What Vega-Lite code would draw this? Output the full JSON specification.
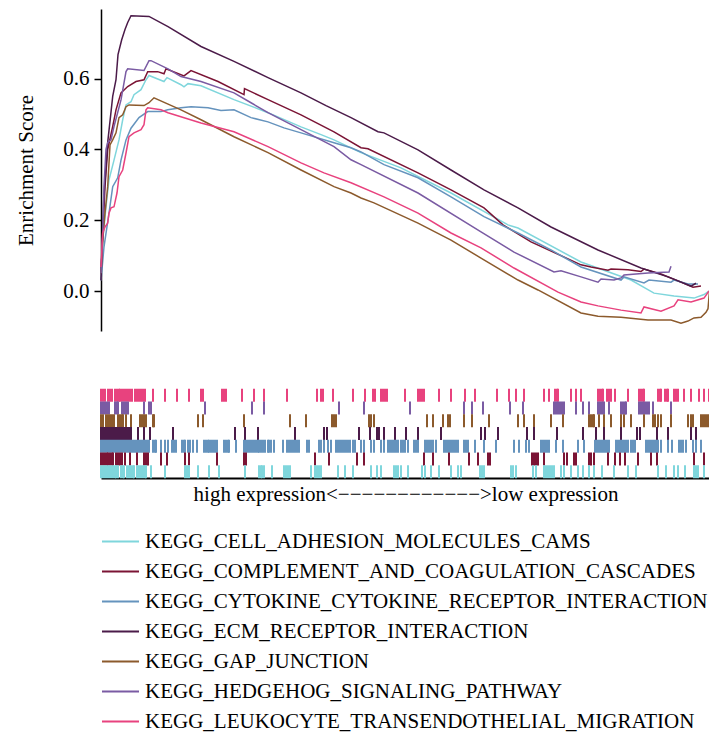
{
  "$schema": "https://vega.github.io/schema/vega-lite/v6.json",
  "padding": {"left": 15, "top": 9, "right": 0, "bottom": 0},
  "background": "white",
  "spacing": 57,
  "config": {
    "font": "Liberation Serif",
    "view": {"stroke": null},
    "axis": {"labelFont": "Liberation Serif", "titleFont": "Liberation Serif", "labelColor": "black", "titleColor": "black", "domainColor": "black", "tickColor": "black", "grid": false},
    "legend": {"labelFont": "Liberation Serif", "labelColor": "black"}
  },
  "datasets": {
    "names": [
      {"code": "A", "set": "KEGG_CELL_ADHESION_MOLECULES_CAMS"},
      {"code": "M", "set": "KEGG_COMPLEMENT_AND_COAGULATION_CASCADES"},
      {"code": "C", "set": "KEGG_CYTOKINE_CYTOKINE_RECEPTOR_INTERACTION"},
      {"code": "E", "set": "KEGG_ECM_RECEPTOR_INTERACTION"},
      {"code": "G", "set": "KEGG_GAP_JUNCTION"},
      {"code": "H", "set": "KEGG_HEDGEHOG_SIGNALING_PATHWAY"},
      {"code": "L", "set": "KEGG_LEUKOCYTE_TRANSENDOTHELIAL_MIGRATION"}
    ],
    "curves": [
      {"code":"A","rank":0,"es":0.05},{"code":"A","rank":2,"es":0.15},{"code":"A","rank":5,"es":0.238},{"code":"A","rank":8,"es":0.314},{"code":"A","rank":13,"es":0.37},{"code":"A","rank":18,"es":0.427},{"code":"A","rank":21.7,"es":0.484},{"code":"A","rank":25,"es":0.526},{"code":"A","rank":30,"es":0.535},{"code":"A","rank":33,"es":0.555},{"code":"A","rank":40,"es":0.569},{"code":"A","rank":45,"es":0.597},{"code":"A","rank":48,"es":0.609},{"code":"A","rank":63,"es":0.592},{"code":"A","rank":66,"es":0.603},{"code":"A","rank":80,"es":0.583},{"code":"A","rank":83,"es":0.577},{"code":"A","rank":87,"es":0.586},{"code":"A","rank":100,"es":0.58},{"code":"A","rank":133,"es":0.541},{"code":"A","rank":167,"es":0.504},{"code":"A","rank":200,"es":0.464},{"code":"A","rank":220,"es":0.442},{"code":"A","rank":233,"es":0.427},{"code":"A","rank":260,"es":0.391},{"code":"A","rank":300,"es":0.348},{"code":"A","rank":350,"es":0.277},{"code":"A","rank":407,"es":0.187},{"code":"A","rank":417,"es":0.178},{"code":"A","rank":480,"es":0.082},{"code":"A","rank":530,"es":0.031},{"code":"A","rank":553,"es":-0.006},{"code":"A","rank":573,"es":-0.014},{"code":"A","rank":593,"es":-0.02},{"code":"A","rank":603,"es":-0.01},{"code":"A","rank":608,"es":0.0},
      {"code":"M","rank":0,"es":0.05},{"code":"M","rank":2,"es":0.17},{"code":"M","rank":4,"es":0.295},{"code":"M","rank":6.7,"es":0.4},{"code":"M","rank":11.7,"es":0.465},{"code":"M","rank":15,"es":0.512},{"code":"M","rank":20,"es":0.56},{"code":"M","rank":26.7,"es":0.578},{"code":"M","rank":35,"es":0.592},{"code":"M","rank":43,"es":0.597},{"code":"M","rank":46.7,"es":0.62},{"code":"M","rank":56.7,"es":0.62},{"code":"M","rank":63,"es":0.614},{"code":"M","rank":65,"es":0.628},{"code":"M","rank":83,"es":0.608},{"code":"M","rank":90,"es":0.623},{"code":"M","rank":117,"es":0.592},{"code":"M","rank":143,"es":0.555},{"code":"M","rank":143.5,"es":0.572},{"code":"M","rank":167,"es":0.541},{"code":"M","rank":200,"es":0.498},{"code":"M","rank":233,"es":0.45},{"code":"M","rank":260,"es":0.405},{"code":"M","rank":267,"es":0.402},{"code":"M","rank":317,"es":0.334},{"code":"M","rank":350,"es":0.286},{"code":"M","rank":383,"es":0.235},{"code":"M","rank":402,"es":0.187},{"code":"M","rank":430,"es":0.139},{"code":"M","rank":480,"es":0.074},{"code":"M","rank":490,"es":0.068},{"code":"M","rank":507,"es":0.059},{"code":"M","rank":510,"es":0.062},{"code":"M","rank":527,"es":0.06},{"code":"M","rank":540,"es":0.055},{"code":"M","rank":543,"es":0.062},{"code":"M","rank":560,"es":0.048},{"code":"M","rank":580,"es":0.025},{"code":"M","rank":592,"es":0.011},{"code":"M","rank":600,"es":0.014},
      {"code":"C","rank":0,"es":0.03},{"code":"C","rank":3,"es":0.125},{"code":"C","rank":8,"es":0.22},{"code":"C","rank":11.7,"es":0.295},{"code":"C","rank":16.7,"es":0.32},{"code":"C","rank":20,"es":0.37},{"code":"C","rank":25,"es":0.427},{"code":"C","rank":30,"es":0.46},{"code":"C","rank":38,"es":0.49},{"code":"C","rank":46.7,"es":0.507},{"code":"C","rank":60,"es":0.507},{"code":"C","rank":66.7,"es":0.512},{"code":"C","rank":80,"es":0.518},{"code":"C","rank":90,"es":0.521},{"code":"C","rank":107,"es":0.518},{"code":"C","rank":120,"es":0.51},{"code":"C","rank":133,"es":0.512},{"code":"C","rank":150,"es":0.49},{"code":"C","rank":167,"es":0.478},{"code":"C","rank":183,"es":0.461},{"code":"C","rank":200,"es":0.447},{"code":"C","rank":233,"es":0.419},{"code":"C","rank":250,"es":0.405},{"code":"C","rank":260,"es":0.393},{"code":"C","rank":283,"es":0.357},{"code":"C","rank":317,"es":0.32},{"code":"C","rank":350,"es":0.266},{"code":"C","rank":383,"es":0.21},{"code":"C","rank":417,"es":0.164},{"code":"C","rank":450,"es":0.116},{"code":"C","rank":480,"es":0.068},{"code":"C","rank":520,"es":0.031},{"code":"C","rank":523,"es":0.04},{"code":"C","rank":543,"es":0.023},{"code":"C","rank":548,"es":0.031},{"code":"C","rank":570,"es":0.025},{"code":"C","rank":573,"es":0.031},{"code":"C","rank":587,"es":0.02},{"code":"C","rank":597,"es":0.02},
      {"code":"E","rank":0,"es":0.03},{"code":"E","rank":2.7,"es":0.258},{"code":"E","rank":6.7,"es":0.42},{"code":"E","rank":11.7,"es":0.55},{"code":"E","rank":15,"es":0.597},{"code":"E","rank":17,"es":0.668},{"code":"E","rank":20.7,"es":0.71},{"code":"E","rank":24,"es":0.739},{"code":"E","rank":26.7,"es":0.759},{"code":"E","rank":30,"es":0.778},{"code":"E","rank":48,"es":0.776},{"code":"E","rank":67,"es":0.747},{"code":"E","rank":100,"es":0.691},{"code":"E","rank":133,"es":0.649},{"code":"E","rank":167,"es":0.603},{"code":"E","rank":200,"es":0.56},{"code":"E","rank":225,"es":0.524},{"code":"E","rank":250,"es":0.49},{"code":"E","rank":277,"es":0.45},{"code":"E","rank":283,"es":0.447},{"code":"E","rank":317,"es":0.399},{"code":"E","rank":350,"es":0.342},{"code":"E","rank":383,"es":0.286},{"code":"E","rank":417,"es":0.235},{"code":"E","rank":450,"es":0.181},{"code":"E","rank":497,"es":0.116},{"code":"E","rank":540,"es":0.065},{"code":"E","rank":567,"es":0.04},{"code":"E","rank":590,"es":0.014},{"code":"E","rank":595,"es":0.022},
      {"code":"G","rank":0,"es":0.05},{"code":"G","rank":1.7,"es":0.144},{"code":"G","rank":4,"es":0.22},{"code":"G","rank":6.7,"es":0.295},{"code":"G","rank":9,"es":0.413},{"code":"G","rank":11.7,"es":0.427},{"code":"G","rank":15,"es":0.447},{"code":"G","rank":18,"es":0.49},{"code":"G","rank":21.7,"es":0.498},{"code":"G","rank":25,"es":0.521},{"code":"G","rank":28,"es":0.526},{"code":"G","rank":43,"es":0.524},{"code":"G","rank":48,"es":0.532},{"code":"G","rank":53,"es":0.546},{"code":"G","rank":80,"es":0.512},{"code":"G","rank":100,"es":0.484},{"code":"G","rank":133,"es":0.436},{"code":"G","rank":167,"es":0.391},{"code":"G","rank":200,"es":0.342},{"code":"G","rank":233,"es":0.295},{"code":"G","rank":250,"es":0.277},{"code":"G","rank":260,"es":0.263},{"code":"G","rank":273,"es":0.249},{"code":"G","rank":317,"es":0.192},{"code":"G","rank":350,"es":0.144},{"code":"G","rank":380,"es":0.093},{"code":"G","rank":417,"es":0.031},{"code":"G","rank":437,"es":0.003},{"code":"G","rank":480,"es":-0.062},{"code":"G","rank":497,"es":-0.071},{"code":"G","rank":520,"es":-0.074},{"code":"G","rank":547,"es":-0.082},{"code":"G","rank":570,"es":-0.082},{"code":"G","rank":580,"es":-0.091},{"code":"G","rank":587,"es":-0.085},{"code":"G","rank":593,"es":-0.076},{"code":"G","rank":600,"es":-0.074},{"code":"G","rank":605,"es":-0.06},{"code":"G","rank":607,"es":-0.05},{"code":"G","rank":608.5,"es":0.0},
      {"code":"H","rank":0,"es":0.05},{"code":"H","rank":1.7,"es":0.164},{"code":"H","rank":3,"es":0.295},{"code":"H","rank":5,"es":0.4},{"code":"H","rank":6.7,"es":0.42},{"code":"H","rank":10,"es":0.427},{"code":"H","rank":13,"es":0.465},{"code":"H","rank":20,"es":0.54},{"code":"H","rank":25,"es":0.62},{"code":"H","rank":26.7,"es":0.628},{"code":"H","rank":43,"es":0.623},{"code":"H","rank":48,"es":0.651},{"code":"H","rank":50,"es":0.651},{"code":"H","rank":67,"es":0.628},{"code":"H","rank":80,"es":0.606},{"code":"H","rank":100,"es":0.592},{"code":"H","rank":133,"es":0.56},{"code":"H","rank":150,"es":0.532},{"code":"H","rank":167,"es":0.504},{"code":"H","rank":200,"es":0.456},{"code":"H","rank":233,"es":0.408},{"code":"H","rank":250,"es":0.371},{"code":"H","rank":260,"es":0.357},{"code":"H","rank":317,"es":0.277},{"code":"H","rank":380,"es":0.167},{"code":"H","rank":413,"es":0.11},{"code":"H","rank":453,"es":0.054},{"code":"H","rank":460,"es":0.057},{"code":"H","rank":480,"es":0.04},{"code":"H","rank":497,"es":0.025},{"code":"H","rank":500,"es":0.034},{"code":"H","rank":513,"es":0.031},{"code":"H","rank":520,"es":0.037},{"code":"H","rank":523,"es":0.045},{"code":"H","rank":547,"es":0.051},{"code":"H","rank":568,"es":0.054},{"code":"H","rank":570,"es":0.07},
      {"code":"L","rank":0,"es":0.068},{"code":"L","rank":1.7,"es":0.164},{"code":"L","rank":4,"es":0.181},{"code":"L","rank":6.7,"es":0.192},{"code":"L","rank":8,"es":0.22},{"code":"L","rank":10,"es":0.235},{"code":"L","rank":13,"es":0.238},{"code":"L","rank":16,"es":0.277},{"code":"L","rank":18,"es":0.323},{"code":"L","rank":21.7,"es":0.342},{"code":"L","rank":25,"es":0.39},{"code":"L","rank":28,"es":0.436},{"code":"L","rank":33,"es":0.447},{"code":"L","rank":40,"es":0.456},{"code":"L","rank":43,"es":0.47},{"code":"L","rank":45,"es":0.512},{"code":"L","rank":46.7,"es":0.518},{"code":"L","rank":60,"es":0.512},{"code":"L","rank":67,"es":0.504},{"code":"L","rank":100,"es":0.475},{"code":"L","rank":133,"es":0.45},{"code":"L","rank":167,"es":0.408},{"code":"L","rank":200,"es":0.362},{"code":"L","rank":223,"es":0.334},{"code":"L","rank":250,"es":0.306},{"code":"L","rank":283,"es":0.266},{"code":"L","rank":317,"es":0.22},{"code":"L","rank":350,"es":0.164},{"code":"L","rank":380,"es":0.122},{"code":"L","rank":413,"es":0.065},{"code":"L","rank":457,"es":-0.003},{"code":"L","rank":480,"es":-0.031},{"code":"L","rank":497,"es":-0.042},{"code":"L","rank":520,"es":-0.054},{"code":"L","rank":540,"es":-0.062},{"code":"L","rank":543,"es":-0.045},{"code":"L","rank":560,"es":-0.057},{"code":"L","rank":573,"es":-0.042},{"code":"L","rank":577,"es":-0.025},{"code":"L","rank":590,"es":-0.031},{"code":"L","rank":603,"es":-0.02},{"code":"L","rank":608,"es":0.0}
    ],
    "hits": [
      {"code":"L","rank":0},{"code":"L","rank":2},{"code":"L","rank":4},{"code":"L","rank":7},{"code":"L","rank":9},{"code":"L","rank":11},{"code":"L","rank":14},{"code":"L","rank":16},{"code":"L","rank":18},{"code":"L","rank":19},{"code":"L","rank":21},{"code":"L","rank":23},{"code":"L","rank":25},{"code":"L","rank":27},{"code":"L","rank":29},{"code":"L","rank":31},{"code":"L","rank":34},{"code":"L","rank":36},{"code":"L","rank":38},{"code":"L","rank":40},{"code":"L","rank":42},{"code":"L","rank":44},{"code":"L","rank":52},{"code":"L","rank":64},{"code":"L","rank":76},{"code":"L","rank":88},{"code":"L","rank":100},{"code":"L","rank":102},{"code":"L","rank":121},{"code":"L","rank":123},{"code":"L","rank":125},{"code":"L","rank":141},{"code":"L","rank":153},{"code":"L","rank":163},{"code":"L","rank":186},{"code":"L","rank":216},{"code":"L","rank":220},{"code":"L","rank":222},{"code":"L","rank":232},{"code":"L","rank":252},{"code":"L","rank":264},{"code":"L","rank":272},{"code":"L","rank":274},{"code":"L","rank":280},{"code":"L","rank":282},{"code":"L","rank":284},{"code":"L","rank":286},{"code":"L","rank":304},{"code":"L","rank":317},{"code":"L","rank":319},{"code":"L","rank":321},{"code":"L","rank":323},{"code":"L","rank":338},{"code":"L","rank":350},{"code":"L","rank":364},{"code":"L","rank":374},{"code":"L","rank":396},{"code":"L","rank":408},{"code":"L","rank":415},{"code":"L","rank":423},{"code":"L","rank":443},{"code":"L","rank":448},{"code":"L","rank":454},{"code":"L","rank":456},{"code":"L","rank":457},{"code":"L","rank":470},{"code":"L","rank":475},{"code":"L","rank":480},{"code":"L","rank":497},{"code":"L","rank":499},{"code":"L","rank":501},{"code":"L","rank":502},{"code":"L","rank":506},{"code":"L","rank":508},{"code":"L","rank":510},{"code":"L","rank":514},{"code":"L","rank":527},{"code":"L","rank":538},{"code":"L","rank":540},{"code":"L","rank":542},{"code":"L","rank":543},{"code":"L","rank":557},{"code":"L","rank":559},{"code":"L","rank":560},{"code":"L","rank":564},{"code":"L","rank":566},{"code":"L","rank":567},{"code":"L","rank":573},{"code":"L","rank":575},{"code":"L","rank":577},{"code":"L","rank":583},{"code":"L","rank":590},{"code":"L","rank":598},{"code":"L","rank":603},{"code":"L","rank":608},
      {"code":"H","rank":0},{"code":"H","rank":2},{"code":"H","rank":4},{"code":"H","rank":6},{"code":"H","rank":8},{"code":"H","rank":14},{"code":"H","rank":16},{"code":"H","rank":17},{"code":"H","rank":21},{"code":"H","rank":23},{"code":"H","rank":25},{"code":"H","rank":27},{"code":"H","rank":43},{"code":"H","rank":48},{"code":"H","rank":50},{"code":"H","rank":104},{"code":"H","rank":151},{"code":"H","rank":163},{"code":"H","rank":238},{"code":"H","rank":263},{"code":"H","rank":309},{"code":"H","rank":363},{"code":"H","rank":371},{"code":"H","rank":382},{"code":"H","rank":409},{"code":"H","rank":422},{"code":"H","rank":453},{"code":"H","rank":455},{"code":"H","rank":457},{"code":"H","rank":459},{"code":"H","rank":461},{"code":"H","rank":463},{"code":"H","rank":475},{"code":"H","rank":482},{"code":"H","rank":488},{"code":"H","rank":497},{"code":"H","rank":499},{"code":"H","rank":501},{"code":"H","rank":503},{"code":"H","rank":508},{"code":"H","rank":520},{"code":"H","rank":522},{"code":"H","rank":524},{"code":"H","rank":525},{"code":"H","rank":538},{"code":"H","rank":540},{"code":"H","rank":542},{"code":"H","rank":544},{"code":"H","rank":546},{"code":"H","rank":548},{"code":"H","rank":552},{"code":"H","rank":570},
      {"code":"G","rank":0},{"code":"G","rank":2},{"code":"G","rank":5},{"code":"G","rank":7},{"code":"G","rank":9},{"code":"G","rank":11},{"code":"G","rank":13},{"code":"G","rank":17},{"code":"G","rank":19},{"code":"G","rank":21},{"code":"G","rank":22},{"code":"G","rank":25},{"code":"G","rank":30},{"code":"G","rank":39},{"code":"G","rank":41},{"code":"G","rank":43},{"code":"G","rank":45},{"code":"G","rank":52},{"code":"G","rank":53},{"code":"G","rank":97},{"code":"G","rank":102},{"code":"G","rank":143},{"code":"G","rank":189},{"code":"G","rank":205},{"code":"G","rank":231},{"code":"G","rank":233},{"code":"G","rank":235},{"code":"G","rank":268},{"code":"G","rank":270},{"code":"G","rank":273},{"code":"G","rank":326},{"code":"G","rank":332},{"code":"G","rank":342},{"code":"G","rank":347},{"code":"G","rank":349},{"code":"G","rank":363},{"code":"G","rank":371},{"code":"G","rank":388},{"code":"G","rank":417},{"code":"G","rank":423},{"code":"G","rank":433},{"code":"G","rank":450},{"code":"G","rank":462},{"code":"G","rank":488},{"code":"G","rank":490},{"code":"G","rank":492},{"code":"G","rank":493},{"code":"G","rank":498},{"code":"G","rank":503},{"code":"G","rank":510},{"code":"G","rank":520},{"code":"G","rank":523},{"code":"G","rank":530},{"code":"G","rank":543},{"code":"G","rank":552},{"code":"G","rank":554},{"code":"G","rank":557},{"code":"G","rank":560},{"code":"G","rank":570},{"code":"G","rank":587},{"code":"G","rank":590},{"code":"G","rank":592},{"code":"G","rank":600},{"code":"G","rank":602},{"code":"G","rank":604},{"code":"G","rank":606},{"code":"G","rank":608},
      {"code":"E","rank":0},{"code":"E","rank":2},{"code":"E","rank":4},{"code":"E","rank":6},{"code":"E","rank":8},{"code":"E","rank":10},{"code":"E","rank":12},{"code":"E","rank":14},{"code":"E","rank":16},{"code":"E","rank":18},{"code":"E","rank":20},{"code":"E","rank":22},{"code":"E","rank":24},{"code":"E","rank":26},{"code":"E","rank":28},{"code":"E","rank":30},{"code":"E","rank":37},{"code":"E","rank":43},{"code":"E","rank":49},{"code":"E","rank":72},{"code":"E","rank":134},{"code":"E","rank":144},{"code":"E","rank":157},{"code":"E","rank":194},{"code":"E","rank":223},{"code":"E","rank":226},{"code":"E","rank":258},{"code":"E","rank":269},{"code":"E","rank":276},{"code":"E","rank":278},{"code":"E","rank":283},{"code":"E","rank":294},{"code":"E","rank":305},{"code":"E","rank":317},{"code":"E","rank":340},{"code":"E","rank":380},{"code":"E","rank":384},{"code":"E","rank":397},{"code":"E","rank":426},{"code":"E","rank":433},{"code":"E","rank":456},{"code":"E","rank":482},{"code":"E","rank":495},{"code":"E","rank":503},{"code":"E","rank":520},{"code":"E","rank":536},{"code":"E","rank":539},{"code":"E","rank":556},{"code":"E","rank":567},{"code":"E","rank":590},{"code":"E","rank":595},
      {"code":"C","rank":0},{"code":"C","rank":2},{"code":"C","rank":4},{"code":"C","rank":6},{"code":"C","rank":8},{"code":"C","rank":10},{"code":"C","rank":12},{"code":"C","rank":14},{"code":"C","rank":16},{"code":"C","rank":18},{"code":"C","rank":20},{"code":"C","rank":22},{"code":"C","rank":24},{"code":"C","rank":26},{"code":"C","rank":28},{"code":"C","rank":30},{"code":"C","rank":32},{"code":"C","rank":34},{"code":"C","rank":36},{"code":"C","rank":38},{"code":"C","rank":40},{"code":"C","rank":42},{"code":"C","rank":44},{"code":"C","rank":46},{"code":"C","rank":48},{"code":"C","rank":52},{"code":"C","rank":54},{"code":"C","rank":55},{"code":"C","rank":60},{"code":"C","rank":64},{"code":"C","rank":67},{"code":"C","rank":71},{"code":"C","rank":73},{"code":"C","rank":75},{"code":"C","rank":81},{"code":"C","rank":83},{"code":"C","rank":84},{"code":"C","rank":87},{"code":"C","rank":89},{"code":"C","rank":92},{"code":"C","rank":96},{"code":"C","rank":103},{"code":"C","rank":105},{"code":"C","rank":107},{"code":"C","rank":108},{"code":"C","rank":110},{"code":"C","rank":112},{"code":"C","rank":114},{"code":"C","rank":116},{"code":"C","rank":123},{"code":"C","rank":125},{"code":"C","rank":127},{"code":"C","rank":128},{"code":"C","rank":135},{"code":"C","rank":143},{"code":"C","rank":145},{"code":"C","rank":147},{"code":"C","rank":149},{"code":"C","rank":151},{"code":"C","rank":153},{"code":"C","rank":155},{"code":"C","rank":157},{"code":"C","rank":158},{"code":"C","rank":160},{"code":"C","rank":162},{"code":"C","rank":164},{"code":"C","rank":167},{"code":"C","rank":168},{"code":"C","rank":170},{"code":"C","rank":173},{"code":"C","rank":182},{"code":"C","rank":186},{"code":"C","rank":188},{"code":"C","rank":190},{"code":"C","rank":192},{"code":"C","rank":194},{"code":"C","rank":196},{"code":"C","rank":198},{"code":"C","rank":206},{"code":"C","rank":208},{"code":"C","rank":218},{"code":"C","rank":220},{"code":"C","rank":223},{"code":"C","rank":227},{"code":"C","rank":230},{"code":"C","rank":235},{"code":"C","rank":237},{"code":"C","rank":239},{"code":"C","rank":241},{"code":"C","rank":243},{"code":"C","rank":245},{"code":"C","rank":247},{"code":"C","rank":249},{"code":"C","rank":252},{"code":"C","rank":254},{"code":"C","rank":260},{"code":"C","rank":263},{"code":"C","rank":270},{"code":"C","rank":273},{"code":"C","rank":280},{"code":"C","rank":283},{"code":"C","rank":287},{"code":"C","rank":289},{"code":"C","rank":291},{"code":"C","rank":293},{"code":"C","rank":295},{"code":"C","rank":297},{"code":"C","rank":300},{"code":"C","rank":302},{"code":"C","rank":304},{"code":"C","rank":307},{"code":"C","rank":313},{"code":"C","rank":315},{"code":"C","rank":317},{"code":"C","rank":324},{"code":"C","rank":326},{"code":"C","rank":328},{"code":"C","rank":330},{"code":"C","rank":332},{"code":"C","rank":335},{"code":"C","rank":343},{"code":"C","rank":345},{"code":"C","rank":347},{"code":"C","rank":349},{"code":"C","rank":351},{"code":"C","rank":353},{"code":"C","rank":355},{"code":"C","rank":357},{"code":"C","rank":363},{"code":"C","rank":365},{"code":"C","rank":367},{"code":"C","rank":374},{"code":"C","rank":383},{"code":"C","rank":395},{"code":"C","rank":413},{"code":"C","rank":418},{"code":"C","rank":425},{"code":"C","rank":428},{"code":"C","rank":440},{"code":"C","rank":442},{"code":"C","rank":444},{"code":"C","rank":446},{"code":"C","rank":448},{"code":"C","rank":455},{"code":"C","rank":462},{"code":"C","rank":477},{"code":"C","rank":483},{"code":"C","rank":494},{"code":"C","rank":496},{"code":"C","rank":498},{"code":"C","rank":500},{"code":"C","rank":502},{"code":"C","rank":504},{"code":"C","rank":506},{"code":"C","rank":508},{"code":"C","rank":515},{"code":"C","rank":517},{"code":"C","rank":519},{"code":"C","rank":521},{"code":"C","rank":523},{"code":"C","rank":525},{"code":"C","rank":527},{"code":"C","rank":530},{"code":"C","rank":532},{"code":"C","rank":534},{"code":"C","rank":545},{"code":"C","rank":547},{"code":"C","rank":549},{"code":"C","rank":551},{"code":"C","rank":553},{"code":"C","rank":555},{"code":"C","rank":557},{"code":"C","rank":560},{"code":"C","rank":567},{"code":"C","rank":571},{"code":"C","rank":578},{"code":"C","rank":580},{"code":"C","rank":582},{"code":"C","rank":585},{"code":"C","rank":592},{"code":"C","rank":595},{"code":"C","rank":600},
      {"code":"M","rank":0},{"code":"M","rank":2},{"code":"M","rank":4},{"code":"M","rank":6},{"code":"M","rank":7},{"code":"M","rank":9},{"code":"M","rank":11},{"code":"M","rank":12},{"code":"M","rank":15},{"code":"M","rank":17},{"code":"M","rank":19},{"code":"M","rank":21},{"code":"M","rank":24},{"code":"M","rank":29},{"code":"M","rank":36},{"code":"M","rank":43},{"code":"M","rank":45},{"code":"M","rank":47},{"code":"M","rank":60},{"code":"M","rank":66},{"code":"M","rank":84},{"code":"M","rank":88},{"code":"M","rank":116},{"code":"M","rank":143},{"code":"M","rank":145},{"code":"M","rank":214},{"code":"M","rank":228},{"code":"M","rank":256},{"code":"M","rank":263},{"code":"M","rank":323},{"code":"M","rank":332},{"code":"M","rank":348},{"code":"M","rank":368},{"code":"M","rank":377},{"code":"M","rank":387},{"code":"M","rank":389},{"code":"M","rank":431},{"code":"M","rank":433},{"code":"M","rank":435},{"code":"M","rank":437},{"code":"M","rank":443},{"code":"M","rank":463},{"code":"M","rank":466},{"code":"M","rank":473},{"code":"M","rank":475},{"code":"M","rank":488},{"code":"M","rank":490},{"code":"M","rank":493},{"code":"M","rank":507},{"code":"M","rank":514},{"code":"M","rank":519},{"code":"M","rank":524},{"code":"M","rank":537},{"code":"M","rank":550},{"code":"M","rank":556},{"code":"M","rank":593},{"code":"M","rank":603},
      {"code":"A","rank":0},{"code":"A","rank":2},{"code":"A","rank":4},{"code":"A","rank":6},{"code":"A","rank":8},{"code":"A","rank":10},{"code":"A","rank":12},{"code":"A","rank":14},{"code":"A","rank":15},{"code":"A","rank":17},{"code":"A","rank":20},{"code":"A","rank":22},{"code":"A","rank":23},{"code":"A","rank":26},{"code":"A","rank":28},{"code":"A","rank":30},{"code":"A","rank":32},{"code":"A","rank":33},{"code":"A","rank":36},{"code":"A","rank":38},{"code":"A","rank":40},{"code":"A","rank":42},{"code":"A","rank":44},{"code":"A","rank":45},{"code":"A","rank":50},{"code":"A","rank":64},{"code":"A","rank":84},{"code":"A","rank":86},{"code":"A","rank":88},{"code":"A","rank":97},{"code":"A","rank":108},{"code":"A","rank":118},{"code":"A","rank":144},{"code":"A","rank":158},{"code":"A","rank":160},{"code":"A","rank":161},{"code":"A","rank":163},{"code":"A","rank":171},{"code":"A","rank":183},{"code":"A","rank":185},{"code":"A","rank":187},{"code":"A","rank":189},{"code":"A","rank":210},{"code":"A","rank":214},{"code":"A","rank":216},{"code":"A","rank":218},{"code":"A","rank":220},{"code":"A","rank":237},{"code":"A","rank":244},{"code":"A","rank":252},{"code":"A","rank":270},{"code":"A","rank":276},{"code":"A","rank":280},{"code":"A","rank":293},{"code":"A","rank":295},{"code":"A","rank":297},{"code":"A","rank":300},{"code":"A","rank":307},{"code":"A","rank":321},{"code":"A","rank":324},{"code":"A","rank":330},{"code":"A","rank":338},{"code":"A","rank":350},{"code":"A","rank":357},{"code":"A","rank":360},{"code":"A","rank":379},{"code":"A","rank":381},{"code":"A","rank":383},{"code":"A","rank":410},{"code":"A","rank":412},{"code":"A","rank":415},{"code":"A","rank":432},{"code":"A","rank":435},{"code":"A","rank":443},{"code":"A","rank":445},{"code":"A","rank":447},{"code":"A","rank":449},{"code":"A","rank":451},{"code":"A","rank":453},{"code":"A","rank":460},{"code":"A","rank":463},{"code":"A","rank":470},{"code":"A","rank":477},{"code":"A","rank":482},{"code":"A","rank":488},{"code":"A","rank":493},{"code":"A","rank":501},{"code":"A","rank":513},{"code":"A","rank":527},{"code":"A","rank":535},{"code":"A","rank":557},{"code":"A","rank":565},{"code":"A","rank":573},{"code":"A","rank":577},{"code":"A","rank":584},{"code":"A","rank":593},{"code":"A","rank":595},{"code":"A","rank":597},{"code":"A","rank":603}
    ]
  },
  "vconcat": [
    {
      "width": 609,
      "height": 322,
      "layer": [
        {
          "mark": {"type": "rule", "color": "black", "strokeWidth": 1.5},
          "encoding": {"y": {"datum": 0, "type": "quantitative"}}
        },
        {
          "data": {"name": "curves"},
          "transform": [{"lookup": "code", "from": {"data": {"name": "names"}, "key": "code", "fields": ["set"]}}],
          "mark": {"type": "line", "strokeWidth": 1.5, "interpolate": "linear"},
          "encoding": {
            "x": {"field": "rank", "type": "quantitative", "scale": {"domain": [0, 609], "nice": false, "zero": false}, "axis": null},
            "y": {"field": "es", "type": "quantitative", "scale": {"domain": [-0.113, 0.797], "nice": false, "zero": false},
              "axis": {"title": "Enrichment Score", "values": [0, 0.2, 0.4, 0.6], "format": ".1f", "labelFontSize": 21, "titleFontSize": 21, "titleFontWeight": "normal", "tickSize": 7, "tickWidth": 1.5, "domainWidth": 1.5, "labelPadding": 5, "titlePadding": 26}},
            "color": {"field": "set", "type": "nominal",
              "scale": {"domain": ["KEGG_CELL_ADHESION_MOLECULES_CAMS", "KEGG_COMPLEMENT_AND_COAGULATION_CASCADES", "KEGG_CYTOKINE_CYTOKINE_RECEPTOR_INTERACTION", "KEGG_ECM_RECEPTOR_INTERACTION", "KEGG_GAP_JUNCTION", "KEGG_HEDGEHOG_SIGNALING_PATHWAY", "KEGG_LEUKOCYTE_TRANSENDOTHELIAL_MIGRATION"],
                "range": ["#7fd6dc", "#7b1435", "#6593bd", "#4b1b49", "#8c5a2c", "#7a5ba3", "#e8427e"]},
              "legend": {"orient": "bottom", "direction": "vertical", "columns": 1, "title": null, "symbolType": "stroke", "symbolSize": 1369, "symbolStrokeWidth": 2, "labelFontSize": 21, "labelOffset": 5, "labelLimit": 0, "rowPadding": 0, "offset": 18}},
            "detail": {"field": "set"},
            "order": {"field": "rank", "type": "quantitative"}
          }
        }
      ]
    },
    {
      "width": 609,
      "height": 89,
      "data": {"name": "hits"},
      "transform": [{"lookup": "code", "from": {"data": {"name": "names"}, "key": "code", "fields": ["set"]}}],
      "mark": {"type": "tick", "thickness": 2, "size": 13, "opacity": 1},
      "encoding": {
        "x": {"field": "rank", "type": "quantitative", "scale": {"domain": [0, 609], "nice": false, "zero": false},
          "axis": {"title": "high expression<−−−−−−−−−−−−>low expression", "titleFontSize": 21, "titleFontWeight": "normal", "labels": false, "ticks": false, "domainWidth": 2, "titlePadding": 5}},
        "y": {"field": "set", "type": "nominal", "sort": ["KEGG_LEUKOCYTE_TRANSENDOTHELIAL_MIGRATION", "KEGG_HEDGEHOG_SIGNALING_PATHWAY", "KEGG_GAP_JUNCTION", "KEGG_ECM_RECEPTOR_INTERACTION", "KEGG_CYTOKINE_CYTOKINE_RECEPTOR_INTERACTION", "KEGG_COMPLEMENT_AND_COAGULATION_CASCADES", "KEGG_CELL_ADHESION_MOLECULES_CAMS"], "scale": {"paddingInner": 0, "paddingOuter": 0}, "axis": null},
        "color": {"field": "set", "type": "nominal"}
      }
    }
  ]
}
